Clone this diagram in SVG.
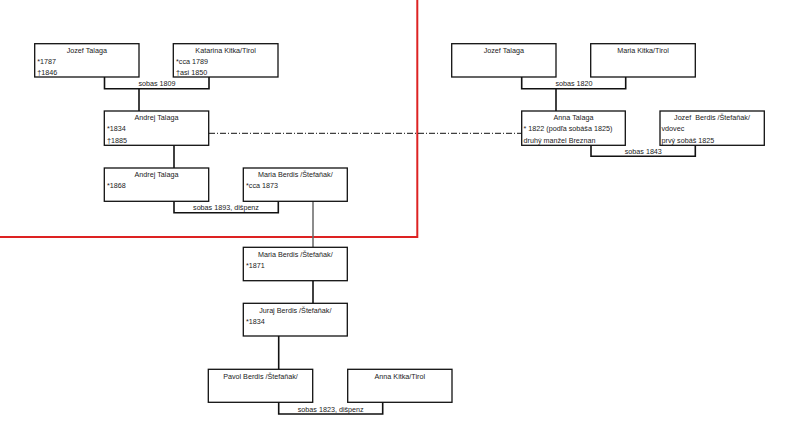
<svg xmlns="http://www.w3.org/2000/svg" width="800" height="426" viewBox="0 0 800 426">
<style>
.box{fill:#fff;stroke:#111;stroke-width:1.3}
text{font-family:"Liberation Sans",Arial,sans-serif;font-size:7.2px;fill:#1a1a1a}
.c{text-anchor:middle}
.ln{fill:none;stroke:#111;stroke-width:1.6}
.gray{fill:none;stroke:#666;stroke-width:1.5}
.dd{fill:none;stroke:#111;stroke-width:1;stroke-dasharray:6 2 1 2}
</style>
<rect x="0" y="0" width="800" height="426" fill="#fff"/>
<g id="red-frame"><polyline points="417.3,0 417.3,237 0,237" fill="none" stroke="#d22" stroke-width="2"/></g>
<g id="connectors">
<polyline class="ln" points="104.5,77 104.5,88.7 209,88.7 209,77"/>
<line class="ln" x1="139" y1="88.7" x2="139" y2="111"/>
<line class="ln" x1="174" y1="145" x2="174" y2="168"/>
<polyline class="ln" points="174,201 174,212.7 278.3,212.7 278.3,201"/>
<line class="gray" x1="313" y1="201" x2="313" y2="247"/>
<line class="ln" x1="313" y1="281" x2="313" y2="303"/>
<line class="ln" x1="278.7" y1="336" x2="278.7" y2="369"/>
<polyline class="ln" points="278.7,402 278.7,414 382.7,414 382.7,402"/>
<polyline class="ln" points="521.7,77 521.7,88.7 625.7,88.7 625.7,77"/>
<line class="ln" x1="556" y1="88.7" x2="556" y2="111"/>
<polyline class="ln" points="591,145 591,156.3 695.3,156.3 695.3,145"/>
<line class="dd" x1="209" y1="133.3" x2="521.7" y2="133.3"/>
<text class="c" x="157" y="86">sobas 1809</text>
<text class="c" x="226" y="210">sobas 1893, dišpenz</text>
<text class="c" x="330.7" y="411.5">sobas 1823, dišpenz</text>
<text class="c" x="574" y="86">sobas 1820</text>
<text class="c" x="643.3" y="153.5">sobas 1843</text>
</g>
<g id="jozef-talaga-1"><rect class="box" x="34.7" y="43.7" width="104.3" height="33.3"/>
<text class="c" x="86.8" y="53.2">Jozef Talaga</text><text x="37.3" y="63.7">*1787</text><text x="37.3" y="74.5">†1846</text></g>
<g id="katarina-kitka"><rect class="box" x="173.3" y="43.7" width="104.7" height="33.3"/>
<text class="c" x="225.6" y="53.2">Katarina Kitka/Tirol</text><text x="176" y="63.7">*cca 1789</text><text x="176" y="74.5">†asi 1850</text></g>
<g id="andrej-talaga-1"><rect class="box" x="104.3" y="111" width="104.4" height="34.3"/>
<text class="c" x="156.5" y="120">Andrej Talaga</text><text x="107" y="131">*1834</text><text x="107" y="142.5">†1885</text></g>
<g id="andrej-talaga-2"><rect class="box" x="104.3" y="168" width="104.4" height="33.3"/>
<text class="c" x="156.5" y="177">Andrej Talaga</text><text x="107" y="188">*1868</text></g>
<g id="maria-berdis-1"><rect class="box" x="243.3" y="168" width="104" height="33.3"/>
<text class="c" x="295.3" y="177">Maria Berdis /Štefaňak/</text><text x="246" y="188">*cca 1873</text></g>
<g id="maria-berdis-2"><rect class="box" x="243.3" y="247.3" width="104" height="33.4"/>
<text class="c" x="295.3" y="256.5">Maria Berdis /Štefaňak/</text><text x="246" y="267.5">*1871</text></g>
<g id="juraj-berdis"><rect class="box" x="243.3" y="303.3" width="104" height="32.7"/>
<text class="c" x="295.3" y="312.5">Juraj Berdis /Štefaňak/</text><text x="246" y="323.5">*1834</text></g>
<g id="pavol-berdis"><rect class="box" x="208.3" y="369.3" width="104.4" height="33"/>
<text class="c" x="260.5" y="378.5">Pavol Berdis /Štefaňak/</text></g>
<g id="anna-kitka"><rect class="box" x="347.7" y="369.3" width="104.3" height="33"/>
<text class="c" x="399.8" y="378.5">Anna Kitka/Tirol</text></g>
<g id="jozef-talaga-2"><rect class="box" x="451.7" y="43.7" width="104.3" height="33.3"/>
<text class="c" x="503.8" y="53.2">Jozef Talaga</text></g>
<g id="maria-kitka"><rect class="box" x="590.7" y="43.7" width="104.6" height="33.3"/>
<text class="c" x="643" y="53.2">Maria Kitka/Tirol</text></g>
<g id="anna-talaga"><rect class="box" x="521.7" y="111" width="103.6" height="34.3"/>
<text class="c" x="573.5" y="120">Anna Talaga</text><text x="523.5" y="131">* 1822 (podľa sobáša 1825)</text><text x="523.5" y="142.5">druhý manžel Breznan</text></g>
<g id="jozef-berdis"><rect class="box" x="660" y="111" width="104.3" height="34.3"/>
<text class="c" x="712" y="120" style="white-space:pre">Jozef  Berdis /Štefaňak/</text><text x="661.5" y="131">vdovec</text><text x="661.5" y="142.5">prvý sobáš 1825</text></g>
</svg>
